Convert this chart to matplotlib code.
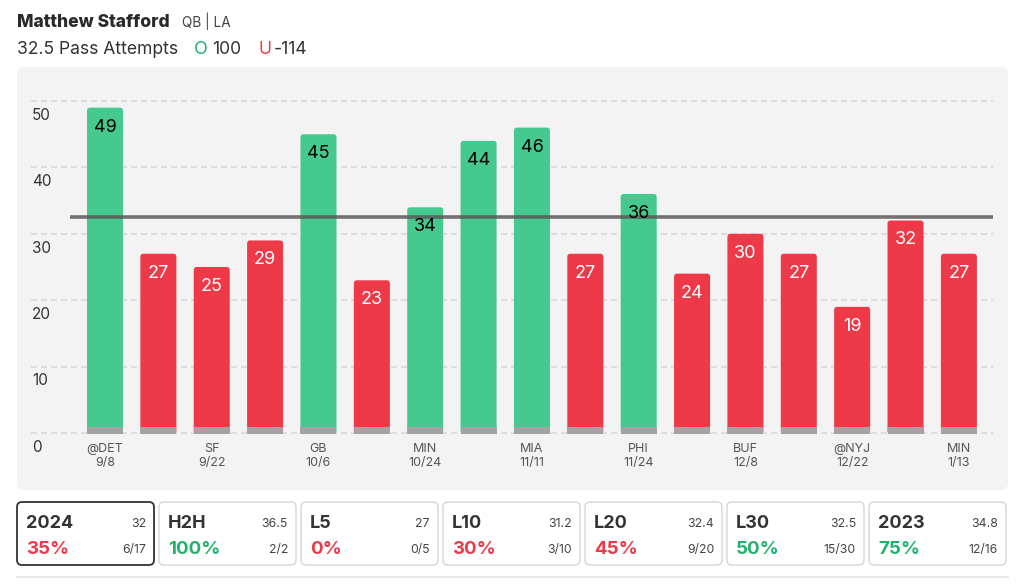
import matplotlib.pyplot as plt
from matplotlib.patches import FancyBboxPatch

plt.rcParams['font.family'] = ['Inter', 'DejaVu Sans']
plt.rcParams['lines.scale_dashes'] = False

# game log (every other game is labelled on the x axis)
attempts = [49, 27, 25, 29, 45, 23, 34, 44, 46, 27, 36, 24, 30, 27, 19, 32, 27]
tick_pos = [0, 2, 4, 6, 8, 10, 12, 14, 16]
tick_labels = ['@DET\n9/8', 'SF\n9/22', 'GB\n10/6', 'MIN\n10/24', 'MIA\n11/11',
               'PHI\n11/24', 'BUF\n12/8', '@NYJ\n12/22', 'MIN\n1/13']
prop_line = 32.5
y_ticks = [0, 10, 20, 30, 40, 50]

# summary cards
card_names = ['2024', 'H2H', 'L5', 'L10', 'L20', 'L30', '2023']
card_avgs = ['32', '36.5', '27', '31.2', '32.4', '32.5', '34.8']
card_pcts = [35, 100, 0, 30, 45, 50, 75]
card_hits = ['6/17', '2/2', '0/5', '3/10', '9/20', '15/30', '12/16']

GREEN = '#45c98e'
RED = '#ee3a48'
GREEN_TXT = '#1fb36b'
W, H = 1024, 588

fig = plt.figure(figsize=(W / 100, H / 100), dpi=100)
fig.patch.set_facecolor('white')

# background layer in pixel coordinates
bg = fig.add_axes([0, 0, 1, 1], zorder=0)
bg.set_xlim(0, W)
bg.set_ylim(H, 0)
bg.axis('off')
bg.add_patch(FancyBboxPatch((17, 67), 991, 423, boxstyle='round,pad=0,rounding_size=7',
                            fc='#f3f3f3', ec='none'))

# header
bg.text(17, 27, 'Matthew Stafford', fontsize=12.6, fontweight='heavy', color='#2a2a2a')
bg.text(182, 27, 'QB | LA', fontsize=9.8, color='#444444')
bg.text(17, 54, '32.5 Pass Attempts', fontsize=12.6, color='#333333')
bg.text(194, 54, 'O', fontsize=13, color=GREEN_TXT)
bg.text(212, 54, '100', fontsize=12.6, color='#333333')
bg.text(258, 54, 'U', fontsize=12.6, color=RED)
bg.text(274, 54, '-114', fontsize=12.6, color='#333333')

# chart
ax = fig.add_axes([31 / W, (H - 440) / H, 962 / W, 350 / H], zorder=1)
ax.set_facecolor('none')
ax.set_xlim(-1.3866, 16.639)
ax.set_ylim(-1.054, 51.66)
for s in ax.spines.values():
    s.set_visible(False)

for v in y_ticks:
    ax.axhline(v, color='#dcdcdc', lw=1.4, dashes=(4.3, 2.9), zorder=0.5)
    ax.annotate(str(v), xy=(0, v), xycoords=ax.get_yaxis_transform(),
                xytext=(0.7, -10.3), textcoords='offset points',
                ha='left', va='center', fontsize=11, color='#333333')

xs = list(range(len(attempts)))
colors = [GREEN if a > prop_line else RED for a in attempts]
bars = ax.bar(xs, [a + 0.15 for a in attempts], bottom=-0.15, width=0.675, color=colors)
for r in bars:
    r.set_visible(False)
    ax.add_patch(FancyBboxPatch((r.get_x(), r.get_y()), r.get_width(), r.get_height(),
                                boxstyle='round,pad=0,rounding_size=0.06', mutation_aspect=8.04,
                                fc=r.get_facecolor(), ec='none', zorder=2))
ax.bar(xs, 1.05, bottom=-0.15, width=0.675, color='#a3a3a3', zorder=2.1)

for x, a in zip(xs, attempts):
    ax.annotate(str(a), xy=(x, a), xytext=(0, -14), textcoords='offset points',
                ha='center', va='center', fontsize=13,
                color='black' if a > prop_line else 'white', zorder=5)

ax.plot([-0.656, 16.64], [prop_line, prop_line], color='#5a5a5a', lw=2.6, alpha=0.85,
        solid_capstyle='butt', zorder=3)

ax.set_yticks([])
ax.set_xticks(tick_pos, tick_labels, fontsize=9, color='#555555', linespacing=1.25)
ax.tick_params(axis='x', length=0, pad=2)

# summary cards
for i, name in enumerate(card_names):
    x0 = 17 + i * 142
    sel = i == 0
    bg.add_patch(FancyBboxPatch((x0, 502), 137, 63, boxstyle='round,pad=0,rounding_size=5',
                                fc='white', ec='#333333' if sel else '#d6d6d6',
                                lw=1.3 if sel else 1.0))
    bg.text(x0 + 9, 528.3, name, fontsize=13, fontweight='bold', color='#333333')
    bg.text(x0 + 129, 526.7, card_avgs[i], fontsize=8.8, color='#444444', ha='right')
    bg.text(x0 + 9, 554.3, f'{card_pcts[i]}%', fontsize=13.5, fontweight='bold',
            color=GREEN_TXT if card_pcts[i] >= 50 else RED)
    bg.text(x0 + 129, 553.3, card_hits[i], fontsize=8.8, color='#444444', ha='right')

bg.plot([17, 1008], [577, 577], color='#e8e8e8', lw=1.5)

fig.savefig('out.png', dpi=100)
